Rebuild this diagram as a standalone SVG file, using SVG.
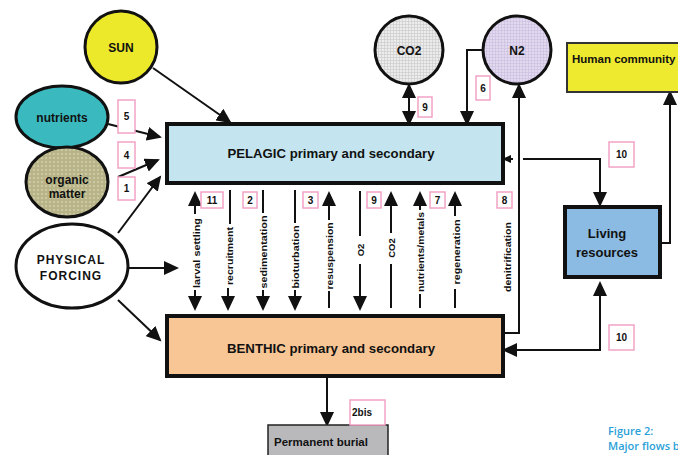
<svg xmlns="http://www.w3.org/2000/svg" width="678" height="455" viewBox="0 0 678 455">
<style>
text{font-family:"Liberation Sans Narrow","Liberation Sans",Arial,sans-serif;font-weight:bold;fill:#111}
.c{stroke:#111;stroke-width:2;fill:none}
.lb rect{fill:#fff;stroke:#f2a3c6;stroke-width:1.5}
.lb text{font-size:10px;text-anchor:middle}
.v{font-size:9.5px;text-anchor:middle;dominant-baseline:central}
.n{font-size:12px;text-anchor:middle}
</style>
<defs>
<marker id="ah" markerUnits="userSpaceOnUse" markerWidth="16" markerHeight="14" viewBox="0 0 16 14" refX="13" refY="7" orient="auto">
<path d="M0,0 L15,7 L0,14 z" fill="#111"/>
</marker>
<marker id="as" markerUnits="userSpaceOnUse" markerWidth="10" markerHeight="10" viewBox="0 0 10 10" refX="8" refY="5" orient="auto">
<path d="M0,1 L9,5 L0,9 z" fill="#111"/>
</marker>
<pattern id="dots" width="4" height="4" patternUnits="userSpaceOnUse">
<rect width="4" height="4" fill="#b8b487"/>
<circle cx="2" cy="2" r="0.8" fill="#e4e2cc"/>
</pattern>
<pattern id="gridg" width="3" height="3" patternUnits="userSpaceOnUse">
<rect width="3" height="3" fill="#ececec"/>
<path d="M0,0.5 H3 M0.5,0 V3" stroke="#c9c9c9" stroke-width="0.6"/>
</pattern>
<pattern id="gridp" width="3" height="3" patternUnits="userSpaceOnUse">
<rect width="3" height="3" fill="#e2d9ee"/>
<path d="M0,0.5 H3 M0.5,0 V3" stroke="#c9bde0" stroke-width="0.6"/>
</pattern>
</defs>

<g id="connectors">
<line class="c" x1="153" y1="68" x2="230" y2="122" marker-end="url(#ah)"/>
<line class="c" x1="108" y1="124" x2="160" y2="137" marker-end="url(#ah)"/>
<line class="c" x1="118" y1="177" x2="158" y2="160" marker-end="url(#ah)"/>
<line class="c" x1="118" y1="233" x2="160" y2="177" marker-end="url(#ah)"/>
<line class="c" x1="128" y1="268" x2="177" y2="268" marker-end="url(#ah)"/>
<line class="c" x1="118" y1="300" x2="160" y2="340" marker-end="url(#ah)"/>
<line class="c" x1="195" y1="214" x2="195" y2="193" marker-end="url(#ah)"/>
<line class="c" x1="195" y1="290" x2="195" y2="309" marker-end="url(#ah)"/>
<line class="c" x1="230" y1="190" x2="230" y2="224"/>
<line class="c" x1="228" y1="288" x2="228" y2="309" marker-end="url(#ah)"/>
<line class="c" x1="263" y1="190" x2="263" y2="213"/>
<line class="c" x1="263" y1="290" x2="263" y2="309" marker-end="url(#ah)"/>
<line class="c" x1="295" y1="190" x2="295" y2="223"/>
<line class="c" x1="295" y1="290" x2="295" y2="309" marker-end="url(#ah)"/>
<line class="c" x1="329" y1="220" x2="329" y2="193" marker-end="url(#ah)"/>
<line class="c" x1="329" y1="291" x2="329" y2="308"/>
<line class="c" x1="360" y1="191" x2="360" y2="236"/>
<line class="c" x1="360" y1="264" x2="360" y2="309" marker-end="url(#ah)"/>
<line class="c" x1="391" y1="233" x2="391" y2="193" marker-end="url(#ah)"/>
<line class="c" x1="391" y1="264" x2="391" y2="308"/>
<line class="c" x1="420" y1="210" x2="420" y2="193" marker-end="url(#ah)"/>
<line class="c" x1="420" y1="294" x2="420" y2="308"/>
<line class="c" x1="455" y1="216" x2="455" y2="193" marker-end="url(#ah)"/>
<line class="c" x1="455" y1="289" x2="455" y2="308"/>
<line class="c" x1="409" y1="104" x2="409" y2="85" marker-end="url(#ah)"/>
<line class="c" x1="409" y1="104" x2="409" y2="124" marker-end="url(#ah)"/>
<polyline class="c" points="483,50 467,50 467,124" marker-end="url(#ah)"/>
<polyline class="c" points="503,333 519,333 519,85" marker-end="url(#ah)"/>
<line class="c" x1="513" y1="159" x2="503" y2="159" marker-end="url(#as)"/>
<polyline class="c" points="523,159 600,159 600,205" marker-end="url(#ah)"/>
<polyline class="c" points="660,243 670,243 670,92" marker-end="url(#ah)"/>
<line class="c" x1="600" y1="310" x2="600" y2="283" marker-end="url(#ah)"/>
<polyline class="c" points="600,310 600,350 504,350" marker-end="url(#ah)"/>
<line class="c" x1="327" y1="377" x2="327" y2="425" marker-end="url(#ah)"/>
</g>

<g id="sun"><circle cx="121" cy="47" r="36" fill="#ece82a" stroke="#111" stroke-width="3"/><text class="n" x="121" y="52">SUN</text></g>
<g id="nutrients"><ellipse cx="62" cy="117" rx="46" ry="31" fill="#3ab9bf" stroke="#111" stroke-width="3"/><text class="n" x="62" y="122">nutrients</text></g>
<g id="organic-matter"><ellipse cx="67" cy="182" rx="41" ry="35" fill="url(#dots)" stroke="#111" stroke-width="3"/><text class="n" x="67" y="184">organic</text><text class="n" x="67" y="198">matter</text></g>
<g id="physical-forcing"><ellipse cx="72" cy="266" rx="56" ry="42" fill="#fff" stroke="#111" stroke-width="3"/><text class="n" x="71" y="264" letter-spacing="1">PHYSICAL</text><text class="n" x="71" y="280" letter-spacing="1">FORCING</text></g>
<g id="co2"><circle cx="409" cy="50" r="34" fill="url(#gridg)" stroke="#111" stroke-width="3"/><text class="n" x="409" y="55">CO2</text></g>
<g id="n2"><circle cx="517" cy="50" r="34" fill="url(#gridp)" stroke="#111" stroke-width="3"/><text class="n" x="517" y="55">N2</text></g>
<g id="human"><rect x="567" y="43" width="120" height="49" fill="#eeea30" stroke="#333" stroke-width="2"/><text x="572" y="63" font-size="11.5">Human community</text></g>
<g id="pelagic"><rect x="167" y="124" width="336" height="59" fill="#c4e5ef" stroke="#111" stroke-width="4"/><text x="331" y="158" font-size="13.5" text-anchor="middle" textLength="207" lengthAdjust="spacingAndGlyphs">PELAGIC primary and secondary</text></g>
<g id="benthic"><rect x="167" y="316" width="336" height="60" fill="#f8c595" stroke="#111" stroke-width="4"/><text x="331" y="353" font-size="13.5" text-anchor="middle" textLength="208" lengthAdjust="spacingAndGlyphs">BENTHIC primary and secondary</text></g>
<g id="living"><rect x="565" y="207" width="95" height="70" fill="#8bbbe3" stroke="#111" stroke-width="4"/><text x="607" y="238" font-size="13" text-anchor="middle">Living</text><text x="607" y="257" font-size="13" text-anchor="middle">resources</text></g>
<g id="burial"><rect x="268" y="425" width="120" height="40" fill="#b9b9bb" stroke="#222" stroke-width="1.5"/><text x="274" y="446" font-size="11.5">Permanent burial</text></g>

<g id="flow-labels">
<text class="v" transform="translate(196,253) rotate(-90)" textLength="70" lengthAdjust="spacingAndGlyphs">larval settling</text>
<text class="v" transform="translate(229,256) rotate(-90)" textLength="58" lengthAdjust="spacingAndGlyphs">recruitment</text>
<text class="v" transform="translate(263,252) rotate(-90)" textLength="73" lengthAdjust="spacingAndGlyphs">sedimentation</text>
<text class="v" transform="translate(295,257) rotate(-90)" textLength="63" lengthAdjust="spacingAndGlyphs">bioturbation</text>
<text class="v" transform="translate(329,256) rotate(-90)" textLength="67" lengthAdjust="spacingAndGlyphs">resuspension</text>
<text class="v" transform="translate(360,250) rotate(-90)">O2</text>
<text class="v" transform="translate(391,248) rotate(-90)">CO2</text>
<text class="v" transform="translate(420,252) rotate(-90)" textLength="80" lengthAdjust="spacingAndGlyphs">nutrients/metals</text>
<text class="v" transform="translate(456,252) rotate(-90)" textLength="65" lengthAdjust="spacingAndGlyphs">regeneration</text>
<text class="v" transform="translate(507,257) rotate(-90)" textLength="70" lengthAdjust="spacingAndGlyphs">denitrification</text>
</g>

<g id="labels">
<g class="lb"><rect x="118" y="100" width="17" height="33"/><text x="126.5" y="120">5</text></g>
<g class="lb"><rect x="118" y="142" width="17" height="26"/><text x="126.5" y="159">4</text></g>
<g class="lb"><rect x="118" y="177" width="17" height="23"/><text x="126.5" y="192">1</text></g>
<g class="lb"><rect x="201" y="192" width="22" height="16"/><text x="212" y="204">11</text></g>
<g class="lb"><rect x="243" y="192" width="14" height="16"/><text x="250" y="204">2</text></g>
<g class="lb"><rect x="303" y="192" width="15" height="16"/><text x="310.5" y="204">3</text></g>
<g class="lb"><rect x="367" y="192" width="14" height="16"/><text x="374" y="204">9</text></g>
<g class="lb"><rect x="430" y="192" width="15" height="16"/><text x="437.5" y="204">7</text></g>
<g class="lb"><rect x="497" y="192" width="15" height="16"/><text x="504.5" y="204">8</text></g>
<g class="lb"><rect x="418" y="97" width="14" height="20"/><text x="425" y="111">9</text></g>
<g class="lb"><rect x="476" y="76" width="14" height="24"/><text x="483" y="92">6</text></g>
<g class="lb"><rect x="609" y="142" width="25" height="25"/><text x="621.5" y="158">10</text></g>
<g class="lb"><rect x="609" y="325" width="25" height="25"/><text x="621.5" y="341">10</text></g>
<g class="lb"><rect x="350" y="400" width="35" height="25"/><text x="362" y="416" font-size="9">2bis</text></g>
</g>

<g id="caption">
<text x="608" y="435" font-size="11" style="fill:#2a9fd8;font-family:'Open Sans','Liberation Sans',sans-serif;font-weight:600">Figure 2:</text>
<text x="608" y="450" font-size="11" style="fill:#2a9fd8;font-family:'Open Sans','Liberation Sans',sans-serif;font-weight:600">Major flows b</text>
</g>
</svg>
